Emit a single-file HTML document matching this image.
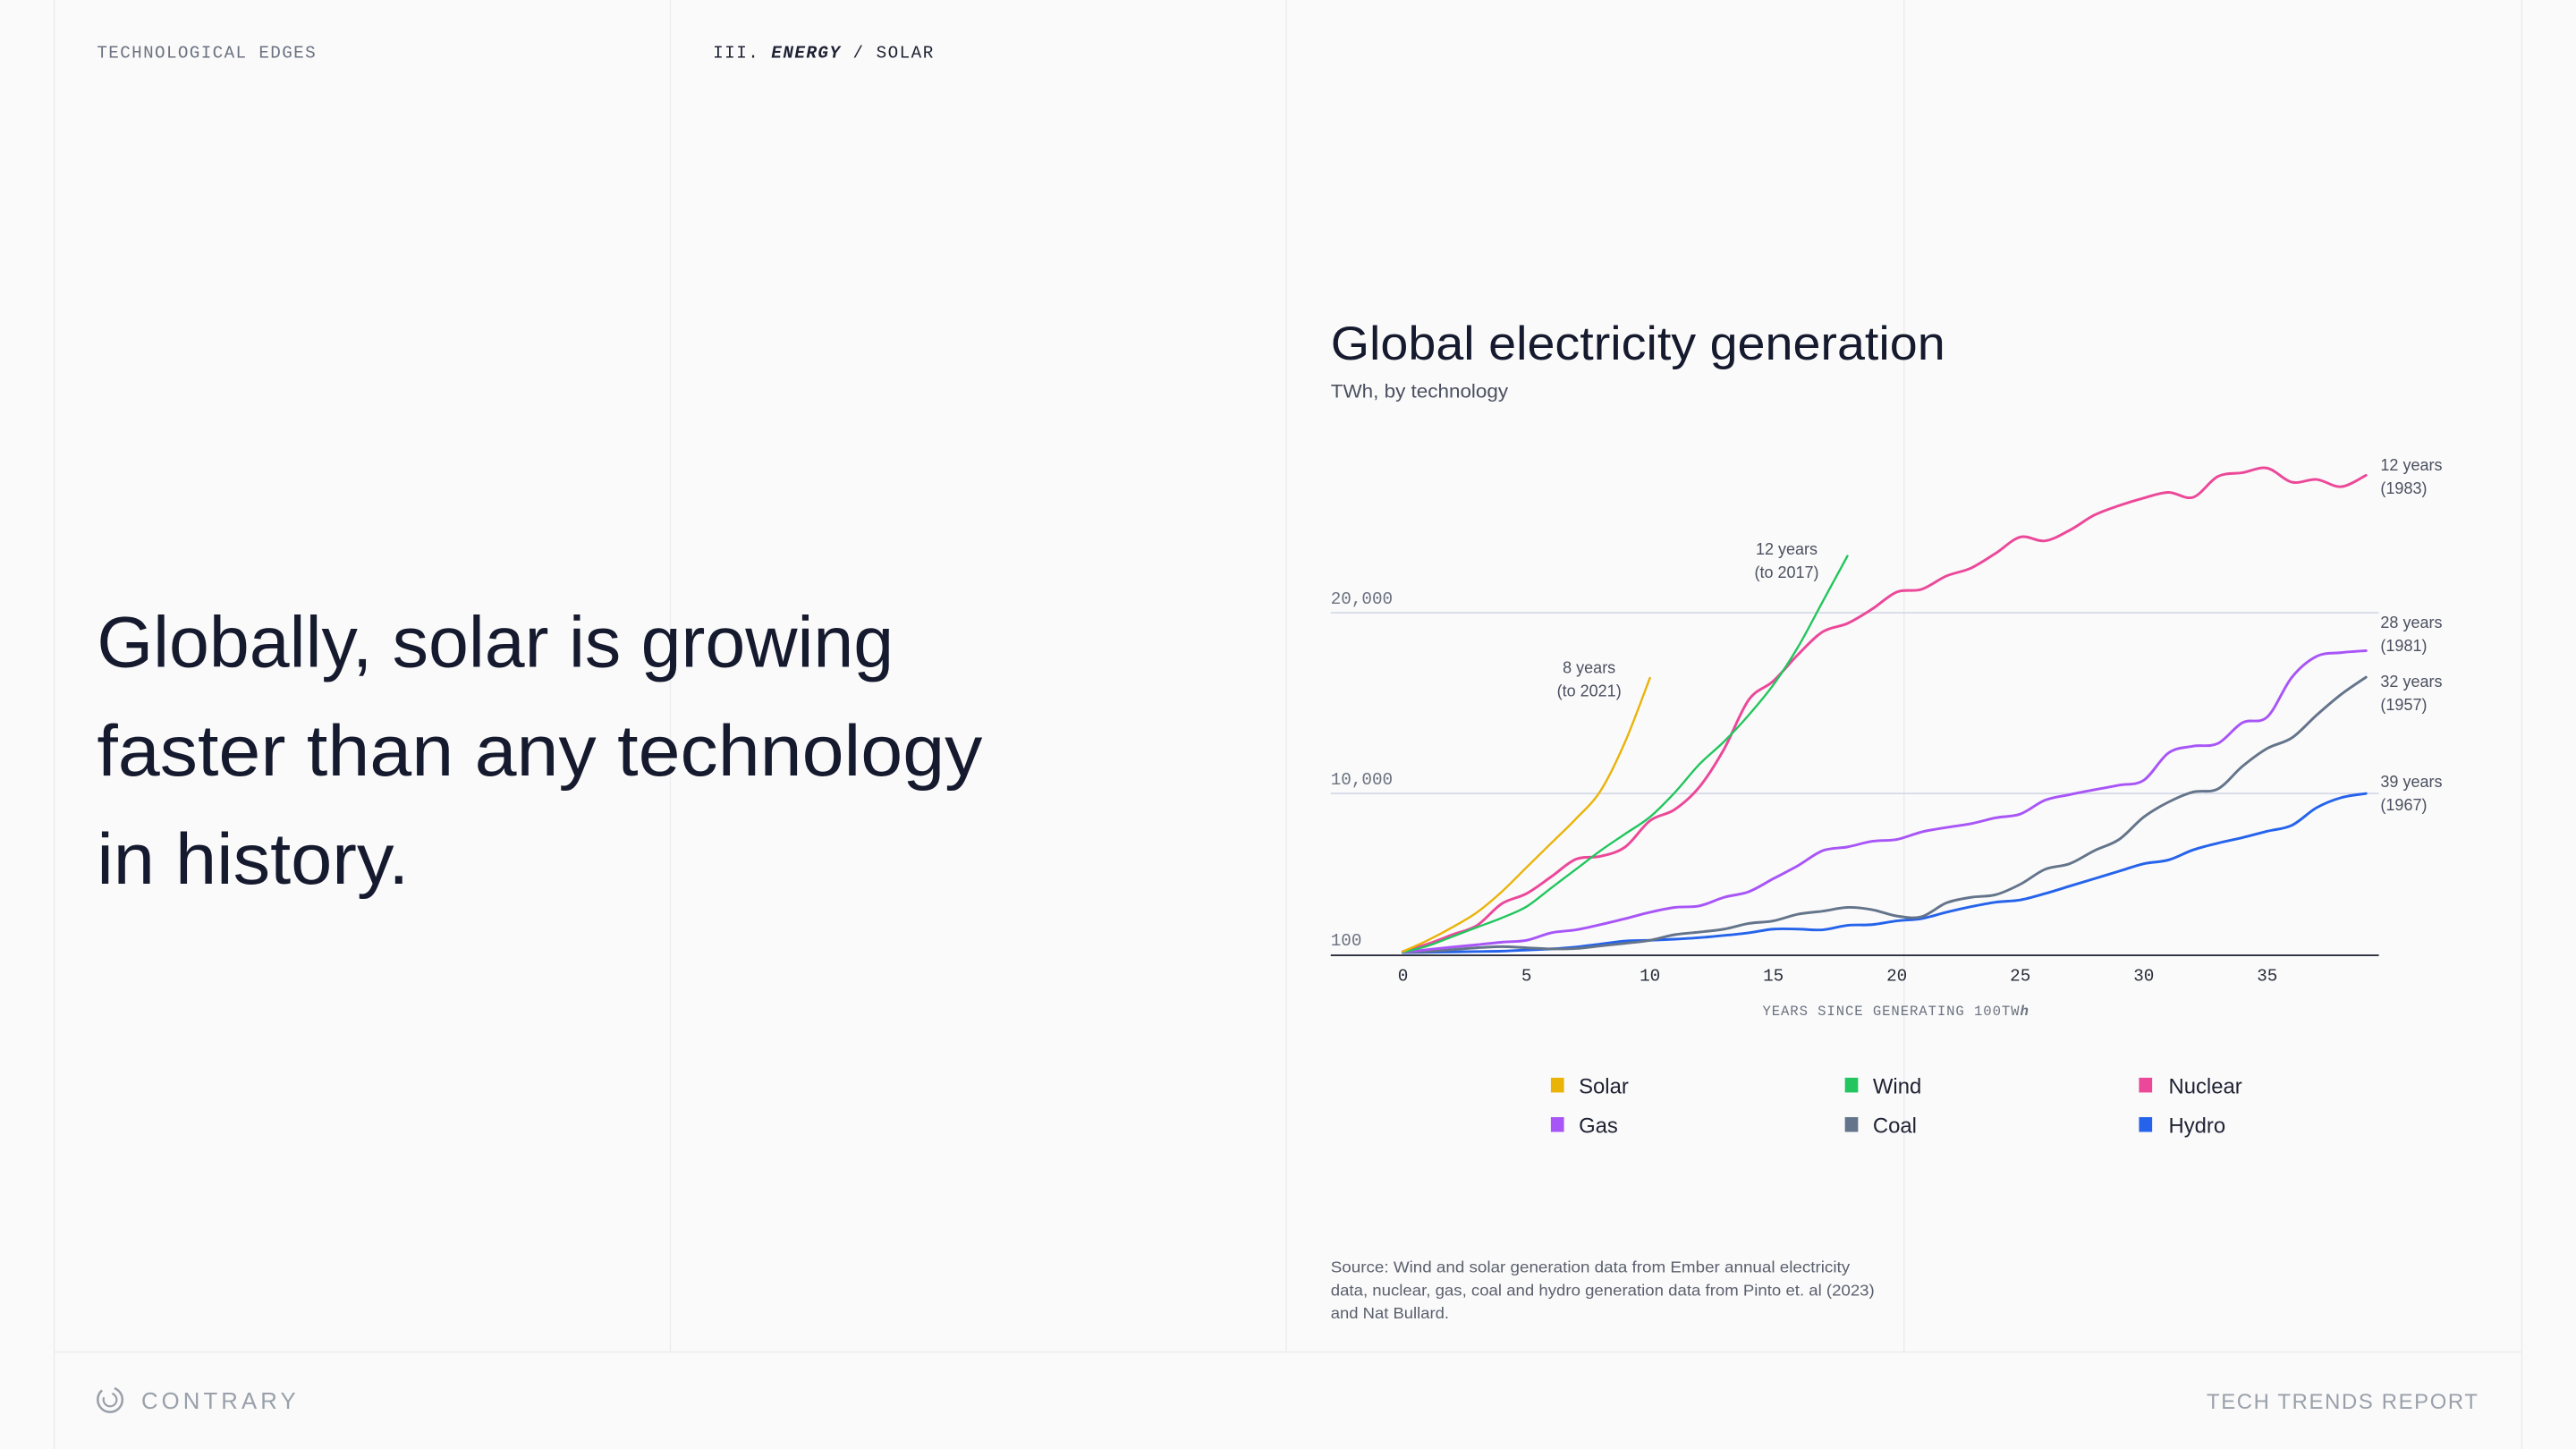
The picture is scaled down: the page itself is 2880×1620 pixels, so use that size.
<!DOCTYPE html>
<html><head><meta charset="utf-8">
<style>
html,body{margin:0;padding:0;background:#fafafa;}
svg{display:block;}
.mono{font-family:"Liberation Mono",monospace;}
.sans{font-family:"Liberation Sans",sans-serif;}
</style></head>
<body>
<svg id="page" width="2880" height="1620" viewBox="0 0 1568 882" xmlns="http://www.w3.org/2000/svg">
  <rect x="0" y="0" width="1568" height="882" fill="#fafafa"/>
  <g stroke="#ebecee" stroke-width="0.8">
    <line x1="33" y1="0" x2="33" y2="882"/>
    <line x1="408" y1="0" x2="408" y2="823"/>
    <line x1="783" y1="0" x2="783" y2="823"/>
    <line x1="1159" y1="0" x2="1159" y2="823"/>
    <line x1="1535" y1="0" x2="1535" y2="882"/>
    <line x1="33" y1="823" x2="1535" y2="823"/>
  </g>
  <text x="59" y="35" class="mono" font-size="10.5" fill="#6b7280" textLength="133" lengthAdjust="spacing">TECHNOLOGICAL EDGES</text>
  <text x="434" y="35" class="mono" font-size="10.5" fill="#1f2233" textLength="134" lengthAdjust="spacing">III. <tspan font-weight="bold" font-style="italic">ENERGY</tspan> / SOLAR</text>

  <g class="sans" font-size="44" fill="#161a2e">
    <text x="59" y="406" textLength="485" lengthAdjust="spacingAndGlyphs">Globally, solar is growing</text>
    <text x="59" y="472" textLength="539" lengthAdjust="spacingAndGlyphs">faster than any technology</text>
    <text x="59" y="538" textLength="190" lengthAdjust="spacingAndGlyphs">in history.</text>
  </g>

  <text x="810" y="219" class="sans" font-size="29" fill="#161a2e" textLength="374" lengthAdjust="spacingAndGlyphs">Global electricity generation</text>
  <text x="810" y="242" class="sans" font-size="11.5" fill="#4b5060" textLength="108" lengthAdjust="spacingAndGlyphs">TWh, by technology</text>

  <g id="chart"></g>

  <g class="sans" font-size="13" fill="#1f2233">
    <g><rect x="944" y="656" width="8" height="9" fill="#eab308"/><text x="961" y="665.5">Solar</text></g>
    <g><rect x="1123" y="656" width="8" height="9" fill="#22c55e"/><text x="1140" y="665.5">Wind</text></g>
    <g><rect x="1302" y="656" width="8" height="9" fill="#ec4899"/><text x="1320" y="665.5">Nuclear</text></g>
    <g><rect x="944" y="680" width="8" height="9" fill="#a855f7"/><text x="961" y="689.5">Gas</text></g>
    <g><rect x="1123" y="680" width="8" height="9" fill="#64748b"/><text x="1140" y="689.5">Coal</text></g>
    <g><rect x="1302" y="680" width="8" height="9" fill="#2563eb"/><text x="1320" y="689.5">Hydro</text></g>
  </g>

  <g class="sans" font-size="9.5" fill="#5b606e">
    <text x="810" y="774.5" textLength="316" lengthAdjust="spacingAndGlyphs">Source: Wind and solar generation data from Ember annual electricity</text>
    <text x="810" y="788.5" textLength="331" lengthAdjust="spacingAndGlyphs">data, nuclear, gas, coal and hydro generation data from Pinto et. al (2023)</text>
    <text x="810" y="802.5" textLength="72" lengthAdjust="spacingAndGlyphs">and Nat Bullard.</text>
  </g>

  <g>
    <circle cx="67" cy="852" r="7.5" fill="none" stroke="#9aa0aa" stroke-width="1.4" stroke-dasharray="30 8"/>
    <circle cx="67" cy="852" r="4" fill="none" stroke="#9aa0aa" stroke-width="1.2" stroke-dasharray="14 6"/>
    <text x="86" y="857.5" class="sans" font-size="14" fill="#9aa0aa" textLength="94" lengthAdjust="spacing">CONTRARY</text>
  </g>
  <text x="1509" y="857.5" text-anchor="end" class="sans" font-size="13" fill="#9aa0aa" letter-spacing="0.9">TECH TRENDS REPORT</text>
</svg>
<script>
// ---- chart data (TWh by years since generating 100 TWh) ----
const xTicks = [0, 5, 10, 15, 20, 25, 30, 35];
const yTicks = [100, 10000, 20000];
const yTickLabels = ["100", "10,000", "20,000"];
const seriesNames = ["Hydro", "Coal", "Gas", "Nuclear", "Wind", "Solar"];
const solar = [284, 973, 1777, 2696, 3959, 5452, 6945, 8438, 10147, 12872, 16393];
const wind = [238, 628, 1203, 1777, 2351, 3040, 4189, 5337, 6486, 7519, 8553, 10042, 11614, 12872, 14339, 16016, 18112, 20627, 23142];
const nuclear = [284, 743, 1317, 1892, 3224, 3844, 4878, 5957, 6141, 6715, 8323, 9012, 10356, 12452, 15177, 16225, 17692, 18950, 19411, 20207, 21151, 21297, 22031, 22471, 23289, 24190, 23980, 24567, 25406, 25930, 26349, 26663, 26391, 27544, 27753, 28005, 27229, 27376, 26978, 27607];
const gas = [238, 399, 560, 698, 858, 973, 1433, 1617, 1938, 2306, 2696, 2995, 3087, 3615, 3959, 4763, 5567, 6486, 6715, 7060, 7174, 7634, 7910, 8140, 8507, 8737, 9587, 9931, 10207, 10461, 10734, 12243, 12620, 12767, 13920, 14234, 16435, 17588, 17797, 17902];
const coal = [238, 284, 399, 514, 583, 514, 445, 468, 628, 789, 973, 1317, 1478, 1662, 2007, 2168, 2581, 2765, 2995, 2857, 2466, 2420, 3270, 3615, 3775, 4419, 5337, 5682, 6486, 7174, 8553, 9472, 10084, 10252, 11509, 12494, 13081, 14339, 15492, 16435];
const hydro = [215, 238, 261, 284, 307, 376, 445, 560, 743, 927, 973, 1042, 1134, 1272, 1433, 1662, 1662, 1617, 1892, 1938, 2168, 2306, 2696, 3040, 3316, 3454, 3844, 4304, 4763, 5222, 5682, 5912, 6532, 6945, 7289, 7680, 8047, 9127, 9747, 10000];
const seriesColors = ["#2563eb", "#64748b", "#a855f7", "#ec4899", "#22c55e", "#eab308"];
const endLabels = [["39 years", "(1967)"], ["32 years", "(1957)"], ["28 years", "(1981)"], ["12 years", "(1983)"], ["12 years", "(to 2017)"], ["8 years", "(to 2021)"]];

const NS = "http://www.w3.org/2000/svg";
const chart = document.getElementById("chart");
const X0 = 854, PX_PER_YEAR = 15.03;
function xScale(yr) { return X0 + yr * PX_PER_YEAR; }
function yScale(v) {
  if (v <= 10000) return 581 - (v - 100) * 98 / 9900;
  return 483 - (v - 10000) * 0.011;
}
function mk(tag, attrs) {
  const e = document.createElementNS(NS, tag);
  for (const k in attrs) e.setAttribute(k, attrs[k]);
  return e;
}
function smoothPath(pts) {
  let d = "M" + pts[0][0].toFixed(2) + "," + pts[0][1].toFixed(2);
  for (let i = 0; i < pts.length - 1; i++) {
    const p0 = pts[i - 1] || pts[i], p1 = pts[i], p2 = pts[i + 1], p3 = pts[i + 2] || p2;
    const c1x = p1[0] + (p2[0] - p0[0]) / 6, c1y = p1[1] + (p2[1] - p0[1]) / 6;
    const c2x = p2[0] - (p3[0] - p1[0]) / 6, c2y = p2[1] - (p3[1] - p1[1]) / 6;
    d += " C" + c1x.toFixed(2) + "," + c1y.toFixed(2) + " " + c2x.toFixed(2) + "," + c2y.toFixed(2) + " " + p2[0].toFixed(2) + "," + p2[1].toFixed(2);
  }
  return d;
}

yTicks.forEach((v, i) => {
  const y = yScale(v);
  if (i > 0) {
    const g = mk("line", {x1: 810, x2: 1448, y1: y, y2: y, stroke: "#d3d8e6", "stroke-width": 0.9});
    
    
    chart.appendChild(g);
  }
  const t = mk("text", {x: 810, y: y - 5.5, "font-family": "Liberation Mono, monospace", "font-size": 10.5, fill: "#6b7280"});
  t.textContent = yTickLabels[i];
  
  
  chart.appendChild(t);
});

const axis = mk("line", {x1: 810, x2: 1448, y1: 581.5, y2: 581.5, stroke: "#2a2d3a", "stroke-width": 1});


chart.appendChild(axis);
xTicks.forEach(v => {
  const t = mk("text", {x: xScale(v), y: 597, "text-anchor": "middle", "font-family": "Liberation Mono, monospace", "font-size": 10.5, fill: "#2a2d3a"});
  t.textContent = String(v);
  
  
  chart.appendChild(t);
});
const xt = mk("text", {x: 1154, y: 618, "text-anchor": "middle", "font-family": "Liberation Mono, monospace", "font-size": 8.5, fill: "#6b7280", "letter-spacing": 0.5});
xt.innerHTML = 'YEARS SINCE GENERATING 100TW<tspan font-style="italic" font-weight="bold">h</tspan>';


chart.appendChild(xt);

const allSeries = [hydro, coal, gas, nuclear, wind, solar];
allSeries.forEach((vals, si) => {
  const pts = vals.map((v, i) => [xScale(i), yScale(v)]);
  const p = mk("path", {d: smoothPath(pts), fill: "none", stroke: seriesColors[si], "stroke-width": si >= 4 ? 1.3 : 1.6, "stroke-linejoin": "round", "stroke-linecap": "round"});
  
  
  chart.appendChild(p);
});

allSeries.forEach((vals, si) => {
  const last = vals.length - 1;
  let x, y, anchor;
  if (si <= 3) {
    x = 1449; anchor = "start";
    y = yScale(vals[last]) - (si === 3 ? 3 : si === 2 ? 14 : si === 1 ? -6 : 4);
  } else {
    x = xScale(last) - 37; anchor = "middle";
    y = yScale(vals[last]) - (si === 4 ? 1 : 3);
  }
  const t = mk("text", {x: x, y: y, "text-anchor": anchor, "font-family": "Liberation Sans, sans-serif", "font-size": 9.8, fill: "#4b5060"});
  t.innerHTML = '<tspan x="' + x + '" dy="0">' + endLabels[si][0] + '</tspan><tspan x="' + x + '" dy="14.2">' + endLabels[si][1] + '</tspan>';
  
  
  chart.appendChild(t);
});
</script>
</body></html>
